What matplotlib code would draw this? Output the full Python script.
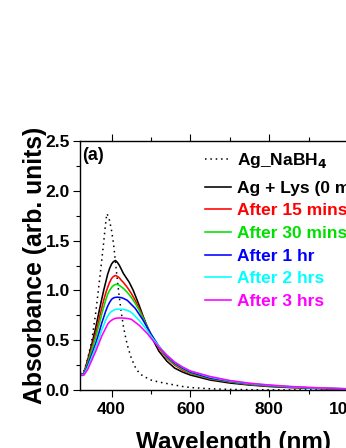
import numpy as np
import matplotlib
matplotlib.use("Agg")
import matplotlib.pyplot as plt
from matplotlib.ticker import MultipleLocator

plt.rcParams['font.family'] = ['Liberation Sans', 'DejaVu Sans']
plt.rcParams['font.weight'] = 'bold'
plt.rcParams['mathtext.default'] = 'bf'

# wavelength grid (nm)
wl = [320, 325, 330, 340, 350, 360, 370, 375, 380, 385, 390, 395, 400, 405, 410,
      415, 420, 425, 430, 435, 440, 445, 450, 455, 460, 465, 470, 480, 490, 500,
      520, 540, 560, 580, 600, 650, 700, 750, 800, 850, 900, 950, 1000, 1050, 1100]

# Ag_NaBH4 (own grid, sharper peak)
wl_nabh4 = [320, 325, 330, 340, 350, 360, 370, 380, 384, 388, 391, 395, 400, 405,
            410, 415, 420, 425, 430, 435, 440, 450, 460, 470, 480, 490, 500, 520,
            540, 560, 580, 600, 650, 700, 750, 800, 900, 1000, 1100]
a_nabh4 = [0.17, 0.16, 0.19, 0.32, 0.50, 0.78, 1.12, 1.48, 1.64, 1.77, 1.75, 1.70,
           1.60, 1.47, 1.28, 1.09, 0.92, 0.77, 0.64, 0.54, 0.45, 0.32, 0.23, 0.17,
           0.14, 0.12, 0.10, 0.08, 0.065, 0.05, 0.035, 0.025, 0.012, 0.006, 0.003,
           0.002, 0.001, 0.0, 0.0]

a_lys0 = [0.17, 0.155, 0.17, 0.31, 0.46, 0.63, 0.82, 0.91, 1.00, 1.08, 1.16, 1.22,
          1.265, 1.29, 1.30, 1.28, 1.25, 1.21, 1.17, 1.14, 1.11, 1.08, 1.04, 1.00,
          0.95, 0.90, 0.85, 0.74, 0.64, 0.54, 0.39, 0.29, 0.22, 0.18, 0.15, 0.10,
          0.07, 0.05, 0.035, 0.025, 0.018, 0.012, 0.008, 0.005, 0.004]
a_15 = [0.17, 0.155, 0.17, 0.29, 0.43, 0.57, 0.74, 0.82, 0.90, 0.97, 1.03, 1.08,
        1.12, 1.14, 1.15, 1.14, 1.125, 1.10, 1.08, 1.055, 1.03, 1.00, 0.97, 0.935,
        0.90, 0.86, 0.82, 0.73, 0.64, 0.56, 0.42, 0.32, 0.25, 0.20, 0.165, 0.11,
        0.08, 0.055, 0.04, 0.028, 0.02, 0.014, 0.009, 0.006, 0.004]
a_30 = [0.17, 0.155, 0.165, 0.27, 0.40, 0.53, 0.68, 0.76, 0.83, 0.90, 0.96, 1.00,
        1.03, 1.05, 1.06, 1.06, 1.05, 1.035, 1.02, 1.00, 0.98, 0.955, 0.93, 0.90,
        0.87, 0.835, 0.80, 0.72, 0.64, 0.56, 0.43, 0.33, 0.26, 0.21, 0.17, 0.115,
        0.083, 0.058, 0.042, 0.03, 0.021, 0.015, 0.01, 0.006, 0.004]
a_1h = [0.17, 0.155, 0.16, 0.25, 0.36, 0.47, 0.60, 0.67, 0.73, 0.79, 0.84, 0.88,
        0.91, 0.925, 0.93, 0.932, 0.93, 0.927, 0.92, 0.91, 0.90, 0.88, 0.86, 0.84,
        0.82, 0.79, 0.76, 0.70, 0.63, 0.56, 0.44, 0.34, 0.27, 0.22, 0.18, 0.12,
        0.088, 0.062, 0.045, 0.032, 0.022, 0.016, 0.011, 0.007, 0.005]
a_2h = [0.165, 0.15, 0.155, 0.23, 0.33, 0.43, 0.54, 0.60, 0.65, 0.70, 0.74, 0.77,
        0.79, 0.80, 0.81, 0.812, 0.812, 0.81, 0.81, 0.805, 0.80, 0.79, 0.78, 0.76,
        0.74, 0.72, 0.70, 0.65, 0.60, 0.54, 0.44, 0.35, 0.28, 0.23, 0.19, 0.13,
        0.092, 0.065, 0.048, 0.034, 0.024, 0.017, 0.012, 0.008, 0.005]
a_3h = [0.16, 0.145, 0.15, 0.21, 0.30, 0.39, 0.49, 0.54, 0.58, 0.62, 0.66, 0.685,
        0.70, 0.712, 0.72, 0.722, 0.723, 0.723, 0.722, 0.72, 0.718, 0.714, 0.71,
        0.695, 0.68, 0.665, 0.65, 0.61, 0.57, 0.52, 0.43, 0.35, 0.28, 0.23, 0.19,
        0.135, 0.095, 0.068, 0.05, 0.036, 0.026, 0.018, 0.012, 0.008, 0.005]

labels = ['Ag_NaBH$_4$', 'Ag + Lys (0 min)', 'After 15 mins', 'After 30 mins',
          'After 1 hr', 'After 2 hrs', 'After 3 hrs']
colors = ['black', 'black', '#ff0000', '#00e000', '#0000ff', '#00ffff', '#ff00ff']

fig = plt.figure(figsize=(3.46, 4.48), dpi=100)
# axes run past the right edge of the picture, as in the original crop
ax = fig.add_axes([80/346, 58/448, 307.7/346, 249/448])

l0, = ax.plot(wl_nabh4, a_nabh4, color='black', lw=1.1, ls=(0, (1, 2.5)))
lines = []
series = [a_lys0, a_15, a_30, a_1h, a_2h, a_3h]
for ys, c in zip(series, colors[1:]):
    ln, = ax.plot(wl, ys, color=c, lw=1.15)
    lines.append(ln)

ax.set_xlim(320, 1100)
ax.set_ylim(0, 2.5)
ax.xaxis.set_major_locator(MultipleLocator(200))
ax.xaxis.set_minor_locator(MultipleLocator(100))
ax.yaxis.set_major_locator(MultipleLocator(0.5))
ax.yaxis.set_minor_locator(MultipleLocator(0.25))
ax.yaxis.set_major_formatter(plt.FormatStrFormatter('%.1f'))
ax.tick_params(which='both', direction='out', top=True, labelsize=12.5, width=0.8)
ax.tick_params(which='major', length=5)
ax.tick_params(which='minor', length=3)
ax.tick_params(axis='y', pad=2.2)
for s in ax.spines.values():
    s.set_linewidth(1.0)

ax.set_xlabel('Wavelength (nm)', fontsize=17.5, fontweight='bold', labelpad=10)
ax.set_ylabel('Absorbance (arb. units)', fontsize=17.8, fontweight='bold', labelpad=-1)

ax.text(0.006, 0.94, '(a)', transform=ax.transAxes, fontsize=13, fontweight='bold',
        va='center', ha='left')

leg_kw = dict(loc='upper left', frameon=False, fontsize=12.5, handlelength=1.5,
              handletextpad=0.33, labelspacing=0.43, borderpad=0, borderaxespad=0)
leg1 = ax.legend([l0], labels[:1], bbox_to_anchor=(0.406, 0.96), **leg_kw)
for txt in leg1.get_texts():
    txt.set_color('black')
ax.add_artist(leg1)
leg2 = ax.legend(lines, labels[1:], bbox_to_anchor=(0.406, 0.841), **leg_kw)
for txt, c in zip(leg2.get_texts(), colors[1:]):
    txt.set_color(c)

fig.savefig('out.png', dpi=100)
